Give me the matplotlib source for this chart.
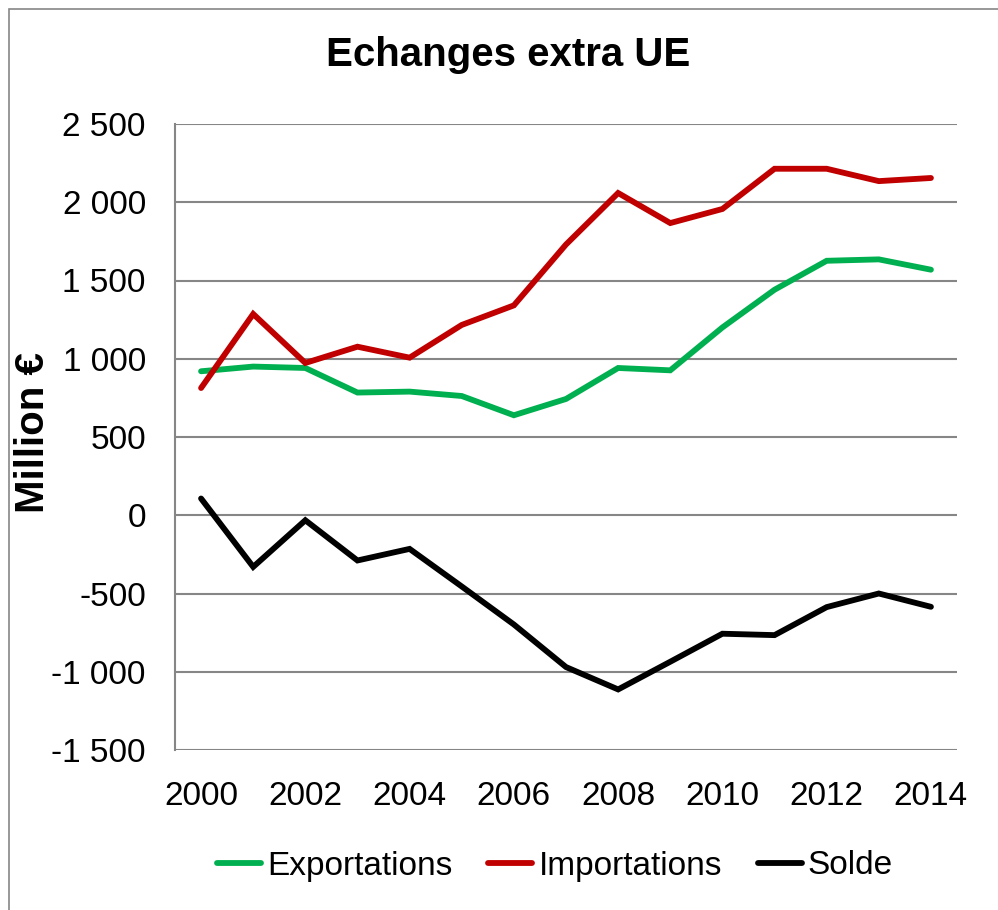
import matplotlib
matplotlib.use("Agg")
import matplotlib.pyplot as plt
import matplotlib.patches as patches
from matplotlib.ticker import FuncFormatter
import numpy as np

years = list(range(2000, 2015))
exportations = [920, 950, 941, 784, 790, 762, 639, 743, 941, 926, 1200, 1441, 1626, 1635, 1569]
importations = [813, 1286, 973, 1077, 1007, 1216, 1341, 1730, 2059, 1867, 1957, 2214, 2214, 2135, 2155]
solde = [107, -330, -32, -289, -215, -455, -698, -970, -1113, -936, -757, -766, -587, -500, -585]

series = [
    ("Exportations", exportations, "#00B050"),
    ("Importations", importations, "#C00000"),
    ("Solde", solde, "#000000"),
]

# narrow face if there is one, else plain Liberation at a smaller size
plt.rcParams["font.family"] = ["Liberation Sans Narrow", "Liberation Sans", "DejaVu Sans"]
grey = "#868686"
fs = 24

fig = plt.figure(figsize=(9.98, 9.10), dpi=100)
ax = fig.add_axes([175/998, 1-750/910, (957-175)/998, (750-124)/910])

x = np.arange(len(years))
for name, vals, col in series:
    ax.plot(x, vals, color=col, lw=4.2, label=name, solid_capstyle="round", solid_joinstyle="miter")

ax.set_xlim(-0.5, len(years) - 0.5)
ax.set_ylim(-1500, 2500)
ax.set_yticks(np.arange(-1500, 2501, 500))
ax.set_xticks(x[::2])
ax.set_xticklabels([str(y) for y in years[::2]])
ax.yaxis.set_major_formatter(FuncFormatter(lambda v, p: "{:,.0f}".format(v).replace(",", " ")))

ax.grid(axis="y", color=grey, lw=1.5)
ax.set_axisbelow(True)
for s in ["top", "right", "bottom"]:
    ax.spines[s].set_visible(False)
ax.spines["left"].set_color(grey)
ax.spines["left"].set_linewidth(1.5)
ax.tick_params(axis="both", length=0, labelsize=fs)
ax.tick_params(axis="y", pad=21)
ax.tick_params(axis="x", pad=22)

fig.text(508/998, 1-55/910, "Echanges extra UE", ha="center", va="center",
         fontsize=29, fontweight="bold")
fig.text(33/998, 1-433/910, "Million €", ha="center", va="center", rotation=90,
         fontsize=29, fontweight="bold")

fig.legend(loc="center", bbox_to_anchor=(555/998, 1-866/910), ncol=3, frameon=False,
           fontsize=fs, handlelength=1.32, handletextpad=0.18, columnspacing=1.08)

fig.patches.append(patches.Rectangle((9/998, -0.1), 1.2, 1 - 9/910 + 0.1,
                                     transform=fig.transFigure, fill=False,
                                     edgecolor=grey, lw=1.2))

fig.savefig("out.png", dpi=100)
